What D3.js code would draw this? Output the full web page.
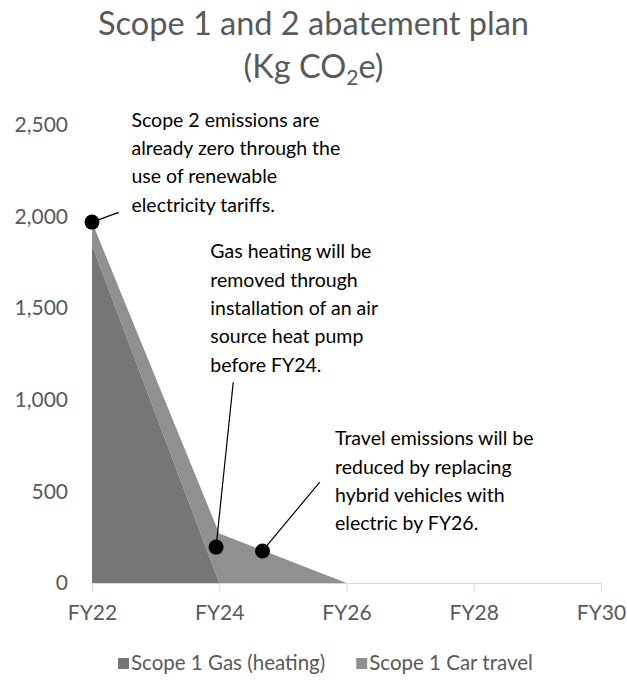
<!DOCTYPE html>
<html>
    <head>
        <meta charset="utf-8">
        <title>Scope 1 and 2 abatement plan</title>
        <style>
            html, body {
                margin: 0px;
                padding: 0px;
                background-color: #fff;
                font-family: Lato, sans-serif;
            }

            svg text {
                fill: #595959;
            }

            .axis .domain {
                stroke: #d9d9d9;
            }

            .axis line {
                stroke: #d9d9d9;
            }

            .axis text {
                font-family: Lato, sans-serif;
                font-size: 21px;
                fill: #595959;
            }

            .yAxis .domain, .yAxis line {
                stroke: none;
            }

            .note text {
                fill: #000;
                font-size: 19.5px;
            }

            .legend text {
                font-size: 20.5px;
            }
        </style>
        <script src="https://cdn.jsdelivr.net/npm/d3@7"></script>
    </head>
    <body>
        <div id="main"></div>

        <script>
            // values
            var categories = ["FY22", "FY24", "FY26", "FY28", "FY30"];
            var seriesNames = ["Scope 1 Gas (heating)", "Scope 1 Car travel"];
            var gasHeating = [1845, 0, 0, 0, 0];
            var carTravel = [125, 270, 0, 0, 0];
            var yTicks = [0, 500, 1000, 1500, 2000, 2500];

            // callouts: dot at (i, v), leader line to (li, lv), text block at (ti, tv)
            var notes = [
                { i: 0, v: 1970, li: 0.21, lv: 2023, ti: 0.31, tv: 2490,
                  lines: ["Scope 2 emissions are", "already zero through the", "use of renewable", "electricity tariffs."] },
                { i: 0.975, v: 196, li: 1.11, lv: 1096, ti: 0.93, tv: 1772,
                  lines: ["Gas heating will be", "removed through", "installation of an air", "source heat pump", "before FY24."] },
                { i: 1.34, v: 175, li: 1.79, lv: 551, ti: 1.91, tv: 752,
                  lines: ["Travel emissions will be", "reduced by replacing", "hybrid vehicles with", "electric by FY26."] }
            ];

            var width = 627;
            var height = 682;
            var margin = { top: 125, right: 26, bottom: 99, left: 92 };
            var colors = ["#767676", "#909090"];
            var lineHeight = 28.3;

            function main() {
                var svg = d3.select("#main")
                            .append("svg")
                            .attr("width", width)
                            .attr("height", height);

                var x = d3.scaleLinear()
                            .domain([0, categories.length - 1])
                            .range([margin.left, width - margin.right]);
                var y = d3.scaleLinear()
                            .domain([0, 2500])
                            .range([height - margin.bottom, margin.top]);

                var rows = categories.map(function(c, i) {
                    return { i: i, gas: gasHeating[i], car: carTravel[i] };
                });
                var stacked = d3.stack().keys(["gas", "car"])(rows);

                var area = d3.area()
                    .x(function(d) { return x(d.data.i); })
                    .y0(function(d) { return y(d[0]); })
                    .y1(function(d) { return y(d[1]); });

                svg.append("g")
                    .selectAll("path")
                    .data(stacked)
                    .enter()
                    .append("path")
                    .attr("fill", function(d, k) { return colors[k]; })
                    .attr("d", area);

                svg.append("g")
                    .attr("class", "axis xAxis")
                    .attr("transform", "translate(0," + y(0) + ")")
                    .call(d3.axisBottom(x)
                        .tickValues(d3.range(categories.length))
                        .tickFormat(function(i) { return categories[i]; })
                        .tickSize(9)
                        .tickSizeOuter(0)
                        .tickPadding(13));

                svg.append("g")
                    .attr("class", "axis yAxis")
                    .attr("transform", "translate(" + margin.left + ",0)")
                    .call(d3.axisLeft(y)
                        .tickValues(yTicks)
                        .tickFormat(d3.format(","))
                        .tickSize(0)
                        .tickPadding(24));

                // callouts
                var g = svg.append("g").attr("class", "note");
                notes.forEach(function(n) {
                    g.append("line")
                        .attr("x1", x(n.i)).attr("y1", y(n.v))
                        .attr("x2", x(n.li)).attr("y2", y(n.lv))
                        .attr("stroke", "#000")
                        .attr("stroke-width", 1.2);
                    g.append("circle")
                        .attr("cx", x(n.i))
                        .attr("cy", y(n.v))
                        .attr("r", 7.5)
                        .attr("fill", "#000");
                    var t = g.append("text")
                        .attr("x", x(n.ti))
                        .attr("y", y(n.tv));
                    t.selectAll("tspan")
                        .data(n.lines)
                        .enter()
                        .append("tspan")
                        .attr("x", x(n.ti))
                        .attr("dy", function(d, k) { return k === 0 ? 0 : lineHeight; })
                        .text(function(d) { return d; });
                });

                // title
                var title = svg.append("text")
                    .attr("text-anchor", "middle")
                    .style("font-size", "32.5px");
                title.append("tspan")
                    .attr("x", width / 2)
                    .attr("y", 35)
                    .text("Scope 1 and 2 abatement plan");
                var l2 = title.append("tspan")
                    .attr("x", width / 2)
                    .attr("y", 78);
                l2.append("tspan").text("(Kg CO");
                l2.append("tspan").attr("dy", 7).style("font-size", "21px").text("2");
                l2.append("tspan").attr("dy", -7).text("e)");

                // legend
                var legend = svg.append("g")
                    .attr("class", "legend")
                    .attr("transform", "translate(118,670)");
                var cx = 0;
                seriesNames.forEach(function(name, k) {
                    legend.append("rect")
                        .attr("x", cx)
                        .attr("y", -12)
                        .attr("width", 11)
                        .attr("height", 11)
                        .attr("fill", colors[k]);
                    var t = legend.append("text")
                        .attr("x", cx + 13)
                        .attr("y", 0)
                        .text(name);
                    cx += 13 + t.node().getComputedTextLength() + 31;
                });
            }

            main();
        </script>
    </body>
</html>
